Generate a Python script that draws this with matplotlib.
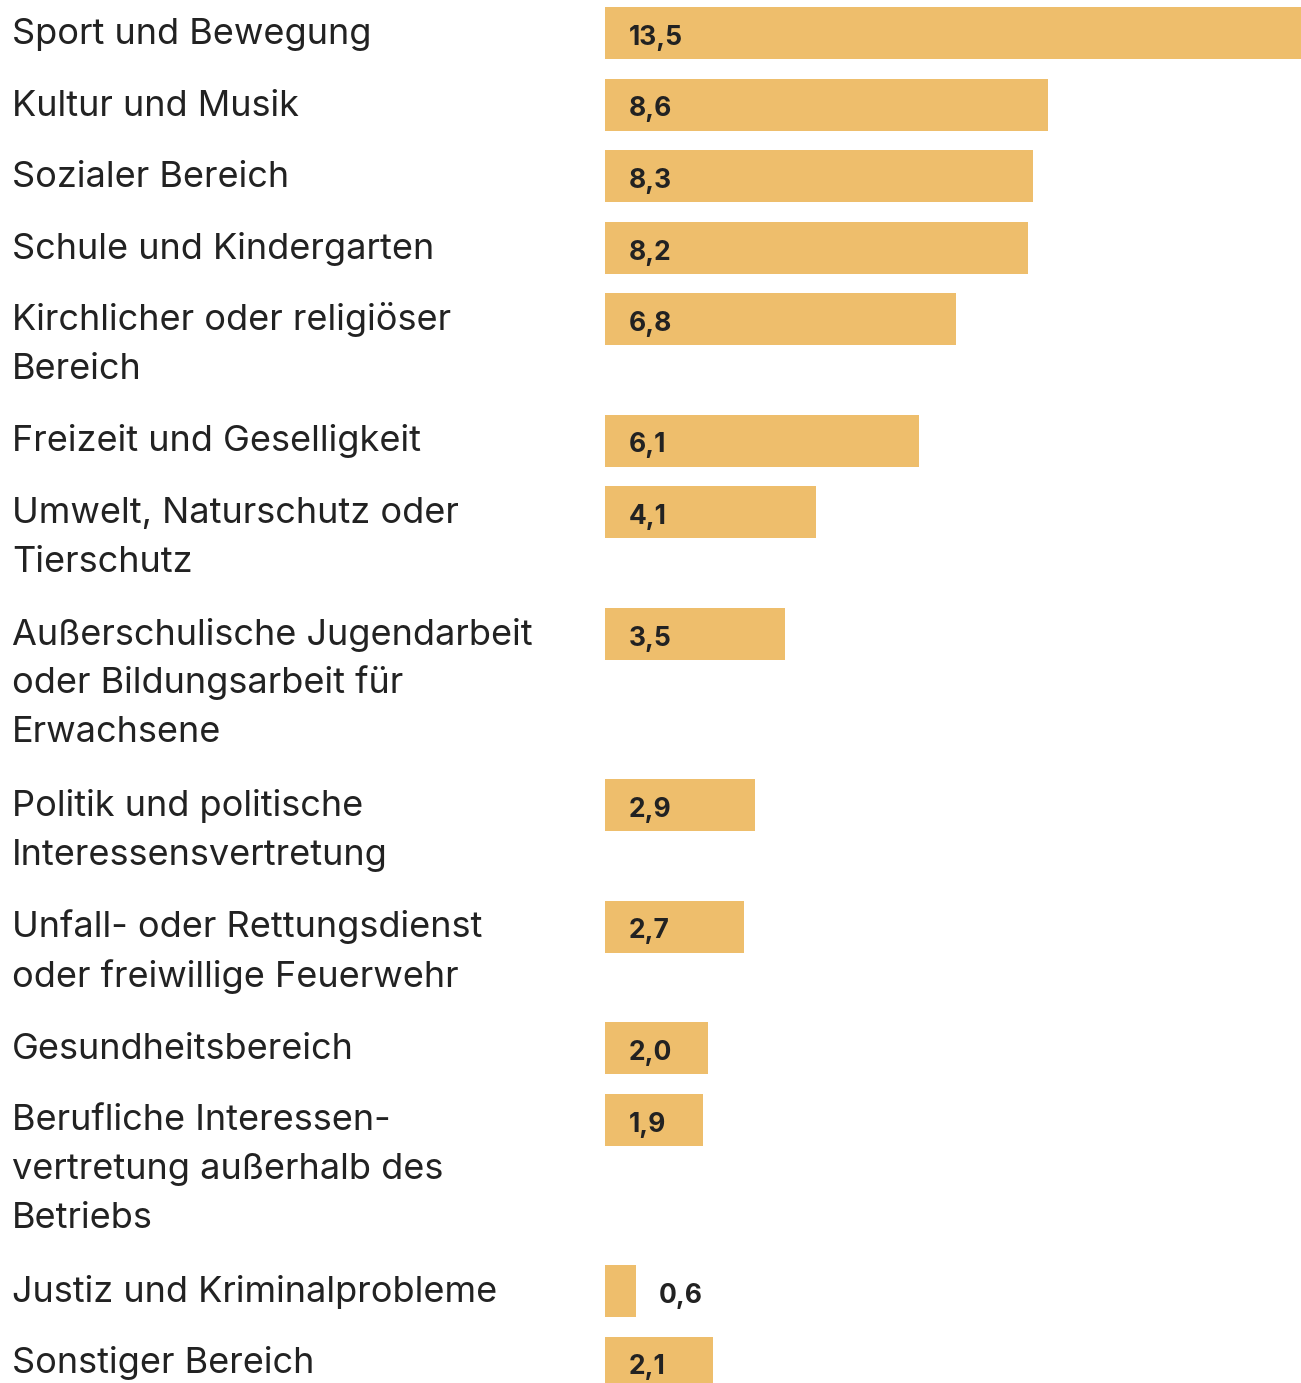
import matplotlib
matplotlib.use("Agg")
import matplotlib.pyplot as plt
import matplotlib.transforms as mtransforms

categories = [
    "Sport und Bewegung",
    "Kultur und Musik",
    "Sozialer Bereich",
    "Schule und Kindergarten",
    "Kirchlicher oder religiöser\nBereich",
    "Freizeit und Geselligkeit",
    "Umwelt, Naturschutz oder\nTierschutz",
    "Außerschulische Jugendarbeit\noder Bildungsarbeit für\nErwachsene",
    "Politik und politische\nInteressensvertretung",
    "Unfall- oder Rettungsdienst\noder freiwillige Feuerwehr",
    "Gesundheitsbereich",
    "Berufliche Interessen-\nvertretung außerhalb des\nBetriebs",
    "Justiz und Kriminalprobleme",
    "Sonstiger Bereich",
]
values = [13.5, 8.6, 8.3, 8.2, 6.8, 6.1, 4.1, 3.5, 2.9, 2.7, 2.0, 1.9, 0.6, 2.1]

BAR_COLOR = "#EEBE6C"
TEXT_COLOR = "#222222"
FONT = ["Inter", "DejaVu Sans"]

W, H, DPI = 1301, 1383, 100
fig = plt.figure(figsize=(W / DPI, H / DPI), dpi=DPI)
ax = fig.add_axes([605 / W, 0, 1 - 605 / W, 1])
ax.set_xlim(0, max(values))
ax.set_ylim(H, 0)
ax.axis("off")

# layout: row height grows with number of label lines
base_row, extra_line, bar_h, top0 = 71.5, 50.0, 52.0, 7.0
line_gap = 49.0
centers = []
y = top0
for lab in categories:
    centers.append(y + bar_h / 2)
    y += base_row + extra_line * (lab.count("\n"))

ax.barh(centers, values, height=bar_h, color=BAR_COLOR, align="center", linewidth=0)

label_trans = mtransforms.blended_transform_factory(fig.transFigure, ax.transData)
for lab, c, v in zip(categories, centers, values):
    for k, line in enumerate(lab.split("\n")):
        ax.text(12 / W, c + 11 + line_gap * k, line, transform=label_trans,
                ha="left", va="baseline", fontsize=26, color=TEXT_COLOR, family=FONT)
    txt = f"{v:.1f}".replace(".", ",")
    if v < 1:
        ax.annotate(txt, xy=(v, c), xytext=(23, -12), textcoords="offset pixels",
                    ha="left", va="baseline", fontsize=19, fontweight="bold",
                    color=TEXT_COLOR, family=FONT)
    else:
        ax.annotate(txt, xy=(0, c), xytext=(24, -12), textcoords="offset pixels",
                    ha="left", va="baseline", fontsize=19, fontweight="bold",
                    color=TEXT_COLOR, family=FONT)

fig.savefig("out.png", dpi=DPI, facecolor="white")
